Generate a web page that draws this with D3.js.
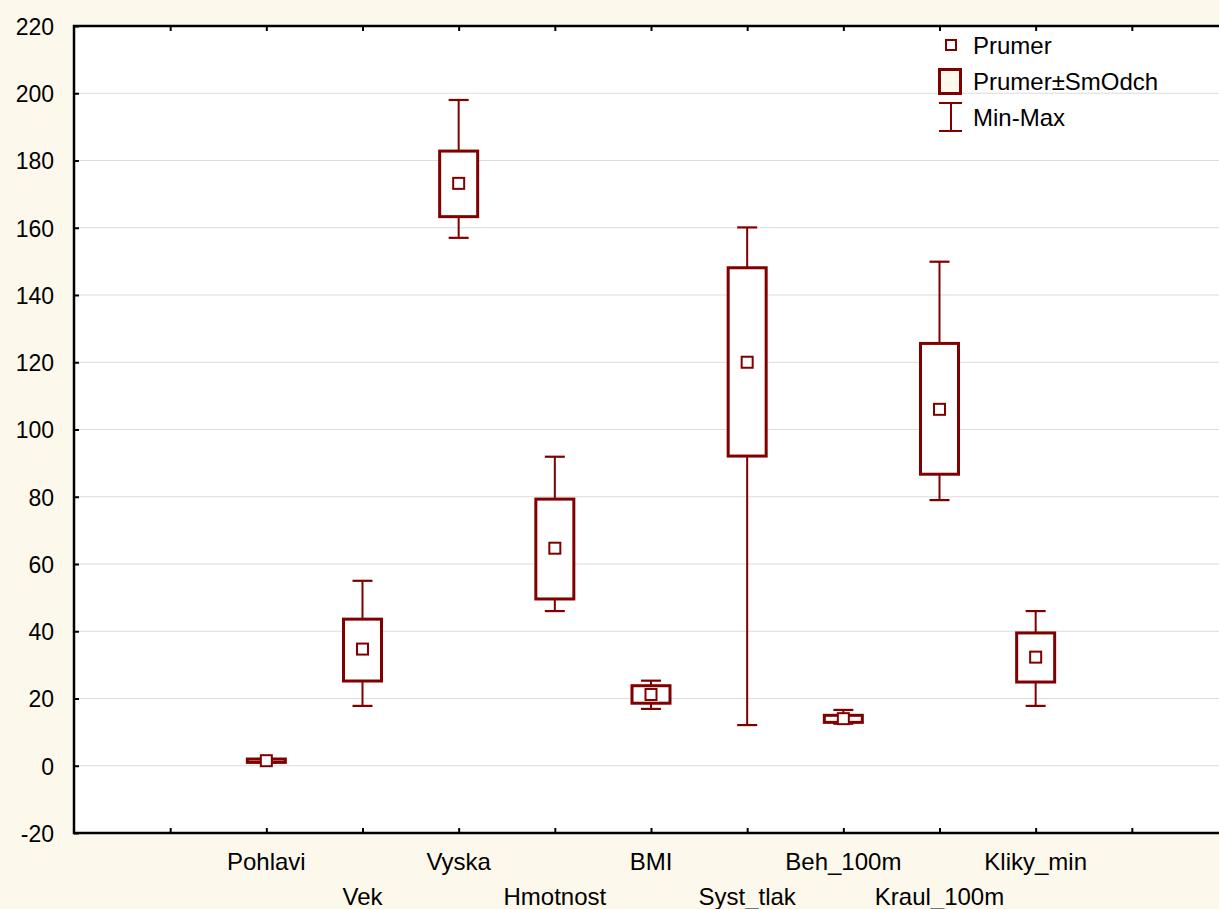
<!DOCTYPE html>
<html>
<head>
<meta charset="utf-8">
<script src="https://cdn.jsdelivr.net/npm/d3@7"></script>
<style>
  body { margin: 0; background: #fdf8ec; overflow: hidden; }
  text { font-family: "Liberation Sans", Arial, sans-serif; }
</style>
</head>
<body>
<div id="chart"></div>
<script>
// data
const categories = ["Pohlavi", "Vek", "Vyska", "Hmotnost", "BMI", "Syst_tlak", "Beh_100m", "Kraul_100m", "Kliky_min"];
const means  = [1.5, 34.7, 173.2, 64.7, 21.2, 120.0, 14.0, 106.0, 32.3];
const sdLow  = [1.0, 25.2, 163.3, 49.6, 18.6, 92.1, 12.9, 86.7, 24.9];
const sdHigh = [2.0, 43.6, 182.8, 79.3, 23.8, 148.1, 15.0, 125.6, 39.5];
const mins   = [1.0, 17.8, 157.0, 46.0, 16.9, 12.1, 12.5, 79.0, 17.8];
const maxs   = [2.0, 55.0, 198.0, 91.9, 25.3, 160.1, 16.6, 149.9, 46.0];
const yTicks = [-20, 0, 20, 40, 60, 80, 100, 120, 140, 160, 180, 200, 220];
const legendLabels = ["Prumer", "Prumer\u00b1SmOdch", "Min-Max"];

const width = 1219, height = 909;
const margin = {top: 26, right: -9, bottom: 76, left: 74};
const red = "#800000";

const svg = d3.select("#chart")
    .append("svg")
    .attr("width", width)
    .attr("height", height);

// background
svg.append("rect").attr("width", width).attr("height", height).attr("fill", "#fdf8ec");
svg.append("rect")
    .attr("x", margin.left).attr("y", margin.top)
    .attr("width", width - margin.left - margin.right)
    .attr("height", height - margin.top - margin.bottom)
    .attr("fill", "white");

// x positions: 0..12, categories sit on 2..10
const xScale = d3.scaleLinear()
    .domain([0, 12])
    .range([margin.left, width - margin.right]);
const yScale = d3.scaleLinear()
    .domain([-20, 220])
    .range([height - margin.bottom, margin.top]);

const xPos = (i) => xScale(i + 2);

// gridlines
svg.append("g")
    .selectAll("line")
    .data(yTicks.filter(d => d > -20 && d < 220))
    .enter()
    .append("line")
      .attr("x1", margin.left).attr("x2", width)
      .attr("y1", d => yScale(d)).attr("y2", d => yScale(d))
      .attr("stroke", "#dcdcdc")
      .attr("stroke-width", 1.2);

// y axis
const yAxis = svg.append("g")
    .attr("transform", `translate(${margin.left},0)`)
    .call(d3.axisRight(yScale).tickValues(yTicks).tickSize(5).tickFormat(d => String(d)));
yAxis.select(".domain").remove();
yAxis.selectAll(".tick line").attr("stroke", "black").attr("stroke-width", 2);
yAxis.selectAll(".tick text")
    .attr("x", -20)
    .attr("dy", "0.36em")
    .attr("text-anchor", "end")
    .attr("fill", "black")
    .attr("font-size", "23px");

// x ticks, top and bottom
const xTickVals = d3.range(1, 12);
const xBottom = svg.append("g")
    .attr("transform", `translate(0,${height - margin.bottom})`)
    .call(d3.axisTop(xScale).tickValues(xTickVals).tickSize(5).tickFormat(""));
xBottom.select(".domain").remove();
xBottom.selectAll(".tick line").attr("stroke", "black").attr("stroke-width", 2);
const xTop = svg.append("g")
    .attr("transform", `translate(0,${margin.top})`)
    .call(d3.axisBottom(xScale).tickValues(xTickVals).tickSize(5).tickFormat(""));
xTop.select(".domain").remove();
xTop.selectAll(".tick line").attr("stroke", "black").attr("stroke-width", 2);

// frame
svg.append("path")
    .attr("d", `M${width + 5},${margin.top}H${margin.left}V${height - margin.bottom}H${width + 5}`)
    .attr("fill", "none")
    .attr("stroke", "black")
    .attr("stroke-width", 2.5);

// category labels, alternating rows
svg.append("g")
    .selectAll("text")
    .data(categories)
    .enter()
    .append("text")
      .attr("x", (d, i) => xPos(i))
      .attr("y", (d, i) => i % 2 === 0 ? 870 : 905)
      .attr("text-anchor", "middle")
      .attr("font-size", "24px")
      .attr("fill", "black")
      .text(d => d);

const idx = d3.range(categories.length);
const g = svg.append("g");
const boxW = 38, capW = 20, meanS = 11;

// whiskers
g.selectAll(".whisker")
    .data(idx).enter()
    .append("line")
      .attr("class", "whisker")
      .attr("x1", i => xPos(i)).attr("x2", i => xPos(i))
      .attr("y1", i => yScale(mins[i])).attr("y2", i => yScale(maxs[i]))
      .attr("stroke", red).attr("stroke-width", 2);
g.selectAll(".capMin")
    .data(idx).enter()
    .append("line")
      .attr("x1", i => xPos(i) - capW / 2).attr("x2", i => xPos(i) + capW / 2)
      .attr("y1", i => yScale(mins[i])).attr("y2", i => yScale(mins[i]))
      .attr("stroke", red).attr("stroke-width", 2.2);
g.selectAll(".capMax")
    .data(idx).enter()
    .append("line")
      .attr("x1", i => xPos(i) - capW / 2).attr("x2", i => xPos(i) + capW / 2)
      .attr("y1", i => yScale(maxs[i])).attr("y2", i => yScale(maxs[i]))
      .attr("stroke", red).attr("stroke-width", 2.2);

// sd boxes
g.selectAll(".box")
    .data(idx).enter()
    .append("rect")
      .attr("x", i => xPos(i) - boxW / 2)
      .attr("y", i => yScale(sdHigh[i]))
      .attr("width", boxW)
      .attr("height", i => yScale(sdLow[i]) - yScale(sdHigh[i]))
      .attr("fill", "white")
      .attr("stroke", red).attr("stroke-width", 3);

// mean markers
g.selectAll(".mean")
    .data(idx).enter()
    .append("rect")
      .attr("x", i => xPos(i) - meanS / 2)
      .attr("y", i => yScale(means[i]) - meanS / 2)
      .attr("width", meanS).attr("height", meanS)
      .attr("fill", "white")
      .attr("stroke", red).attr("stroke-width", 2);

// legend
const lg = svg.append("g");
lg.append("rect")
    .attr("x", 946).attr("y", 40).attr("width", 10).attr("height", 10)
    .attr("fill", "white").attr("stroke", red).attr("stroke-width", 2);
lg.append("rect")
    .attr("x", 939.5).attr("y", 69.5).attr("width", 21).attr("height", 24)
    .attr("fill", "#fdf8ec").attr("stroke", red).attr("stroke-width", 3);
lg.append("line").attr("x1", 951).attr("x2", 951).attr("y1", 103).attr("y2", 131)
    .attr("stroke", red).attr("stroke-width", 2);
lg.append("line").attr("x1", 939).attr("x2", 962).attr("y1", 103).attr("y2", 103)
    .attr("stroke", red).attr("stroke-width", 2);
lg.append("line").attr("x1", 939).attr("x2", 962).attr("y1", 131).attr("y2", 131)
    .attr("stroke", red).attr("stroke-width", 2);
lg.selectAll("text")
    .data(legendLabels).enter()
    .append("text")
      .attr("x", 973)
      .attr("y", (d, i) => 54 + i * 36)
      .attr("font-size", "24px")
      .attr("fill", "black")
      .text(d => d);
</script>
</body>
</html>
